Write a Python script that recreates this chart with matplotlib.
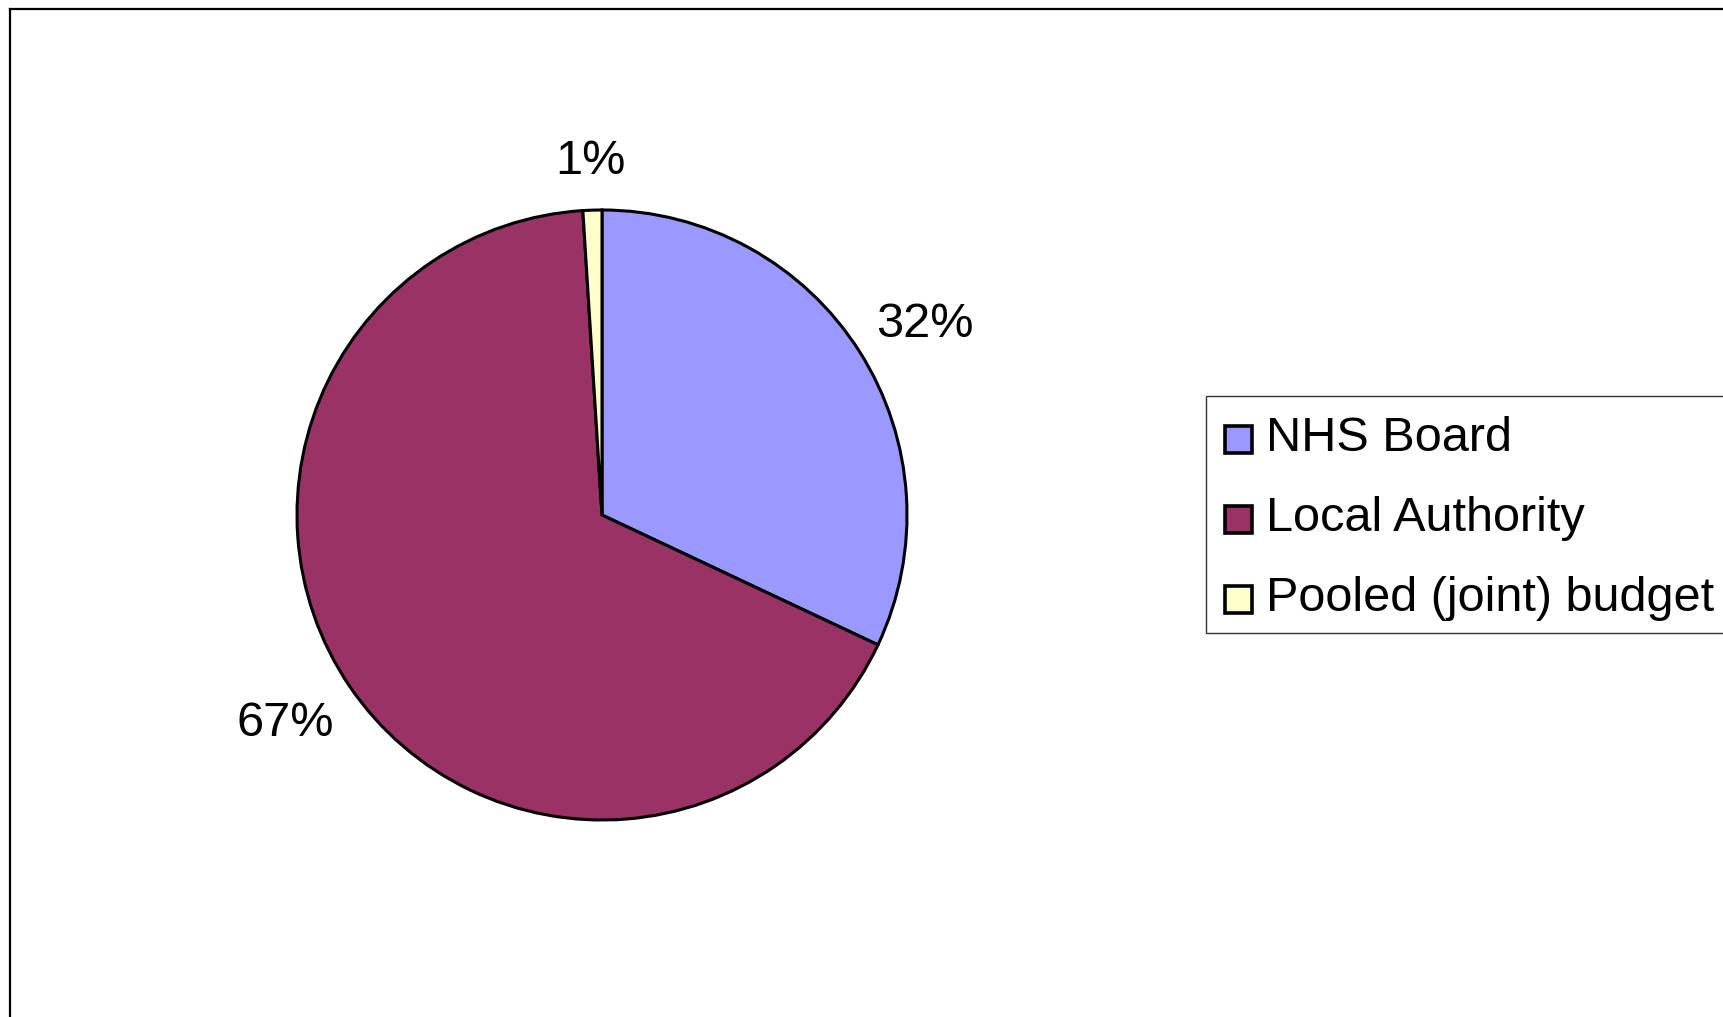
import matplotlib
matplotlib.use("Agg")
import matplotlib.pyplot as plt
import numpy as np
from matplotlib.lines import Line2D
from matplotlib.patches import Rectangle

plt.rcParams['font.family'] = ['Liberation Sans', 'DejaVu Sans']

categories = ["NHS Board", "Local Authority", "Pooled (joint) budget"]
shares = [32, 67, 1]
pct_labels = ["32%", "67%", "1%"]
colors = ["#9999FF", "#993366", "#FFFFCC"]

W, H = 1724, 1017
DPI = 100
FS = 35
CAP = 0.688 * FS * DPI / 72  # cap height in pixels

fig = plt.figure(figsize=(W / DPI, H / DPI), dpi=DPI)
fig.patch.set_facecolor("white")

# axes spans the figure; data units are pixels with y pointing up
ax = fig.add_axes([0, 0, 1, 1])
ax.set_xlim(0, W)
ax.set_ylim(0, H)
ax.set_aspect("equal")
ax.axis("off")

cx, cy, r = 602, H - 515, 305
wedges, _ = ax.pie(shares, colors=colors, startangle=90, counterclock=False,
                   center=(cx, cy), radius=r,
                   wedgeprops=dict(edgecolor="black", linewidth=2.2))
ax.set_xlim(0, W)
ax.set_ylim(0, H)

# percentage labels outside each slice
fig.canvas.draw()
renderer = fig.canvas.get_renderer()
gap = 36
for w, lab in zip(wedges, pct_labels):
    mid = np.deg2rad((w.theta1 + w.theta2) / 2)
    px = cx + (r + gap) * np.cos(mid)
    py = cy + (r + gap) * np.sin(mid)
    t = ax.text(px, py, lab, fontsize=FS, ha="center", va="baseline")
    tw = t.get_window_extent(renderer).width * 0.85
    lx = px + tw / 2 * np.cos(mid)
    ly = py + (CAP / 2 + 7 * abs(np.cos(mid))) * np.sin(mid)
    t.set_position((lx, ly - CAP / 2))

# outer chart frame (top and left edges visible)
fig.add_artist(Line2D([10 / W, 1.0], [1 - 9 / H, 1 - 9 / H], transform=fig.transFigure,
                      color="black", linewidth=1.6))
fig.add_artist(Line2D([10 / W, 10 / W], [0.0, 1 - 9 / H], transform=fig.transFigure,
                      color="black", linewidth=1.6))

# legend box with square swatches
leg_left, leg_top, leg_bottom = 1206.5, 396, 633
ax.add_patch(Rectangle((leg_left, H - leg_bottom), W, leg_bottom - leg_top,
                       facecolor="white", edgecolor="#333333", linewidth=1.0,
                       clip_on=False, zorder=3))
row_step = 80
sw = 27
for i, (name, col) in enumerate(zip(categories, colors)):
    my = H - (439 + i * row_step)
    ax.add_patch(Rectangle((1238.5 - sw / 2, my - sw / 2), sw, sw,
                           facecolor=col, edgecolor="black", linewidth=2.6,
                           zorder=4))
    ax.text(1266, H - (451 + i * row_step), name, fontsize=FS,
            ha="left", va="baseline", zorder=4)

fig.savefig("out.png", dpi=DPI, facecolor="white")
